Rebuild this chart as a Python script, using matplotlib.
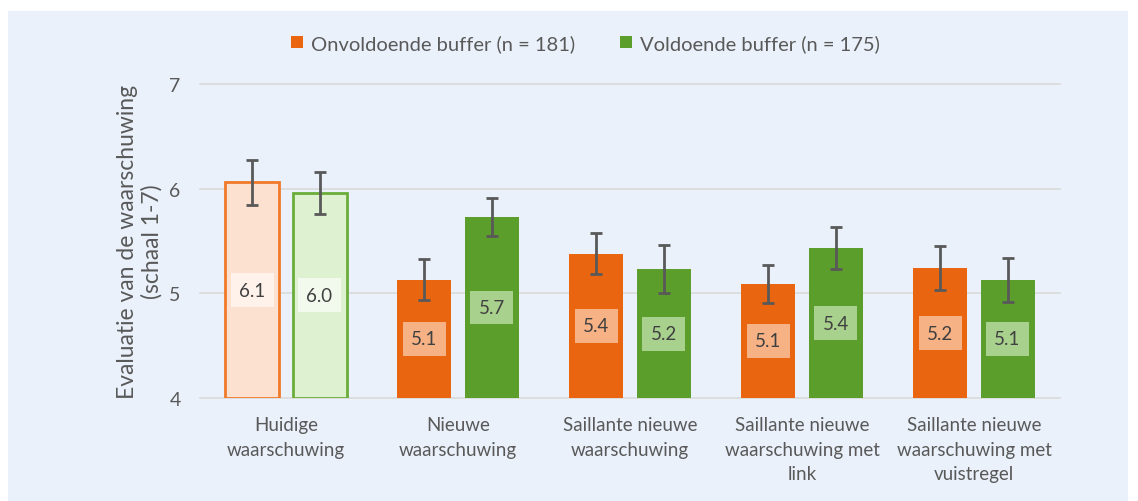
import numpy as np
import matplotlib.pyplot as plt
from matplotlib.patches import Patch, Rectangle

plt.rcParams['font.family'] = ['Lato', 'DejaVu Sans']

categories = ['Huidige\nwaarschuwing', 'Nieuwe\nwaarschuwing', 'Saillante nieuwe\nwaarschuwing',
              'Saillante nieuwe\nwaarschuwing met\nlink', 'Saillante nieuwe\nwaarschuwing met\nvuistregel']
onvoldoende = [6.06, 5.13, 5.38, 5.09, 5.24]
onvoldoende_err = [0.215, 0.195, 0.195, 0.18, 0.21]
voldoende = [5.96, 5.73, 5.23, 5.43, 5.13]
voldoende_err = [0.20, 0.18, 0.23, 0.20, 0.21]
legend_labels = ['Onvoldoende buffer (n = 181)', 'Voldoende buffer (n = 175)']

orange = '#E9650F'
green = '#5C9E2B'
grey = '#595959'
panel = '#EAF1FB'

fig = plt.figure(figsize=(11.38, 5.02), dpi=100)
fig.patch.set_facecolor('white')
bg = Rectangle((8 / 1138, 0), 1120 / 1138, 1 - 12 / 502, transform=fig.transFigure,
               facecolor=panel, edgecolor='none', zorder=-10)
fig.add_artist(bg)

ax = fig.add_axes([200 / 1138, 1 - 399 / 502, 860 / 1138, 314 / 502])
ax.set_facecolor(panel)

x = np.arange(len(categories))
w = 0.314
off = 0.195

for i in range(len(categories)):
    # first group drawn as light outlined bars
    if i == 0:
        o_style = dict(color='#FDE1D0', edgecolor='#F07A2A', linewidth=2)
        g_style = dict(color='#DEF2D2', edgecolor='#6AAD3A', linewidth=2)
        o_box, g_box = '#FEF2EA', '#F1FAEC'
    else:
        o_style = dict(color=orange, edgecolor=orange, linewidth=0)
        g_style = dict(color=green, edgecolor=green, linewidth=0)
        o_box, g_box = '#F6B184', '#A9D18E'
    ax.bar(x[i] - off, onvoldoende[i] - 4, w, bottom=4, zorder=2, **o_style)
    ax.bar(x[i] + off, voldoende[i] - 4, w, bottom=4, zorder=2, **g_style)
    ax.text(x[i] - off, (onvoldoende[i] + 4) / 2, f'{onvoldoende[i]:.1f}', ha='center', va='center',
            fontsize=13.5, color='#404040', zorder=4,
            bbox=dict(boxstyle='square,pad=0.45', facecolor=o_box, edgecolor='none'))
    ax.text(x[i] + off, (voldoende[i] + 4) / 2, f'{voldoende[i]:.1f}', ha='center', va='center',
            fontsize=13.5, color='#404040', zorder=4,
            bbox=dict(boxstyle='square,pad=0.45', facecolor=g_box, edgecolor='none'))

ax.errorbar(x - off, onvoldoende, yerr=onvoldoende_err, fmt='none', ecolor=grey,
            elinewidth=2, capsize=4, capthick=2, zorder=3)
ax.errorbar(x + off, voldoende, yerr=voldoende_err, fmt='none', ecolor=grey,
            elinewidth=2, capsize=4, capthick=2, zorder=3)

ax.set_xlim(-0.5, len(categories) - 0.5)
ax.set_ylim(4, 7)
ax.set_yticks([4, 5, 6, 7])
ax.set_xticks(x)
ax.set_xticklabels(categories, fontsize=13.5, color=grey, linespacing=1.55)
ax.tick_params(axis='y', length=0, pad=14, labelsize=14, labelcolor=grey)
ax.tick_params(axis='x', length=0, pad=13)
ax.yaxis.grid(True, color='#D9D9D9', linewidth=1.2)
ax.set_axisbelow(True)
for s in ax.spines.values():
    s.set_visible(False)
for gl in ax.get_ygridlines():
    gl.set_clip_on(False)

ax.set_ylabel('Evaluatie van de waarschuwing\n(schaal 1-7)', fontsize=16.5, color=grey,
              labelpad=5, linespacing=1.15)

handles = [Patch(facecolor=orange), Patch(facecolor=green)]
fig.legend(handles, legend_labels, loc='center', bbox_to_anchor=(0.5145, 0.912), ncol=2,
           frameon=False, fontsize=14.5, labelcolor=grey, handlelength=0.6, handleheight=0.6,
           handletextpad=0.4, columnspacing=2.2)

fig.savefig('out.png', dpi=100, facecolor=fig.get_facecolor())
